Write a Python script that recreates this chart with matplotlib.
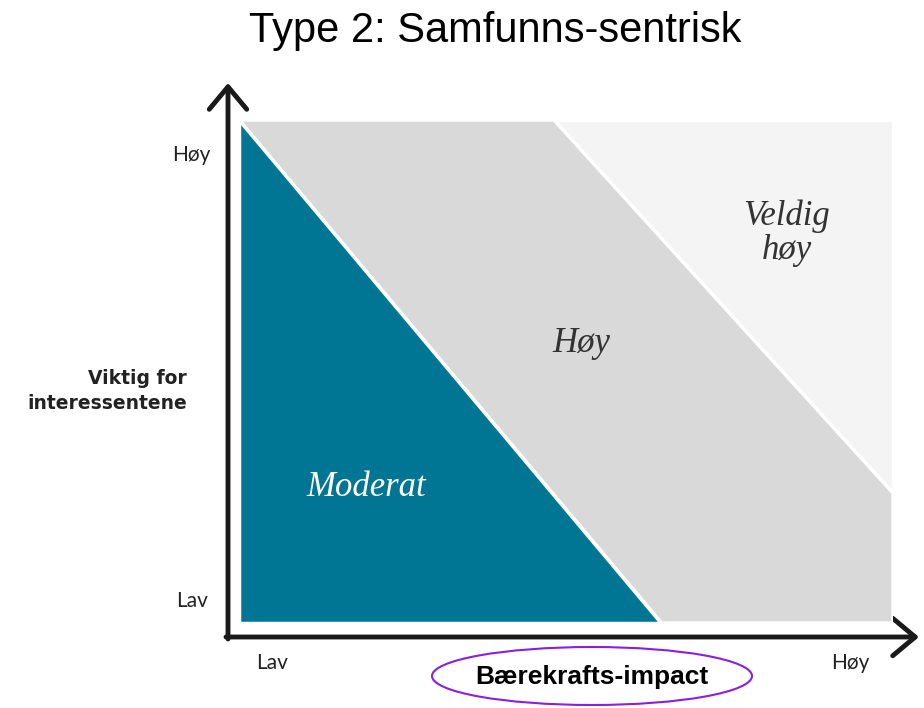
import matplotlib.pyplot as plt
from matplotlib.patches import Polygon, Ellipse

# regions in plot space: x = baerekrafts-impact (0..1), y = viktig for interessentene (0..1)
moderat_x = [0.0, 0.0, 0.646]
moderat_y = [1.0, 0.0, 0.0]
hoy_x = [0.0, 0.482, 1.0, 1.0, 0.646]
hoy_y = [1.0, 1.0, 0.259, 0.0, 0.0]
veldig_x = [0.482, 1.0, 1.0]
veldig_y = [1.0, 1.0, 0.259]

region_labels = ["Moderat", "Høy", "Veldig\nhøy"]
label_pos_x = [0.195, 0.523, 0.837]
label_pos_y = [0.27, 0.555, 0.775]
label_colors = ["white", "#333333", "#333333"]

y_ticks = ["Lav", "Høy"]
x_ticks = ["Lav", "Høy"]

W, H = 924, 708
fig = plt.figure(figsize=(W / 100, H / 100), dpi=100)

# background axes in figure pixels for arrows and labels
bg = fig.add_axes([0, 0, 1, 1])
bg.set_xlim(0, W)
bg.set_ylim(H, 0)
bg.axis("off")

# plot area
ax = fig.add_axes([239 / W, 1 - 623 / H, (893 - 239) / W, (623 - 120) / H])
ax.set_xlim(0, 1)
ax.set_ylim(0, 1)
ax.axis("off")

for xs, ys, col in [(hoy_x, hoy_y, "#D9D9D9"),
                    (veldig_x, veldig_y, "#F4F4F4"),
                    (moderat_x, moderat_y, "#007594")]:
    ax.add_patch(Polygon(list(zip(xs, ys)), closed=True, facecolor=col,
                         edgecolor="white", lw=2.5, joinstyle="miter"))

for lab, lx, ly, c in zip(region_labels, label_pos_x, label_pos_y, label_colors):
    ax.text(lx, ly, lab, color=c, fontsize=25, ha="center", va="center",
            family="Liberation Serif", style="italic", linespacing=1.05)

# axis arrows
arrow = dict(arrowstyle="->,head_length=0.9,head_width=0.75", lw=3.5,
             color="#1a1a1a", shrinkA=0, shrinkB=0, mutation_scale=18)
bg.annotate("", xy=(228, 83), xytext=(228, 639), arrowprops=arrow)
bg.annotate("", xy=(919, 637), xytext=(226, 637), arrowprops=arrow)

tick_font = dict(family="Lato", fontsize=15, color="#222222")
bg.text(192, 601, y_ticks[0], ha="center", va="center", **tick_font)
bg.text(191, 155, y_ticks[1], ha="center", va="center", **tick_font)
bg.text(272, 663, x_ticks[0], ha="center", va="center", **tick_font)
bg.text(850, 663, x_ticks[1], ha="center", va="center", **tick_font)

bg.text(187, 391, "Viktig for\ninteressentene", ha="right", va="center",
        family="DejaVu Sans", fontweight="bold", fontsize=13.5, color="#222222",
        linespacing=1.4)

bg.add_patch(Ellipse((592, 676), 320, 58, facecolor="none",
                     edgecolor="#8B1EE6", lw=1.5))
bg.text(592, 677, "Bærekrafts-impact", ha="center", va="center",
        family="Liberation Sans", fontweight="bold", fontsize=19, color="black")

fig.text(495 / W, 1 - 31 / H, "Type 2: Samfunns-sentrisk", ha="center",
         va="center", family="Liberation Sans", fontsize=30, color="black")

fig.savefig("out.png", dpi=100)
